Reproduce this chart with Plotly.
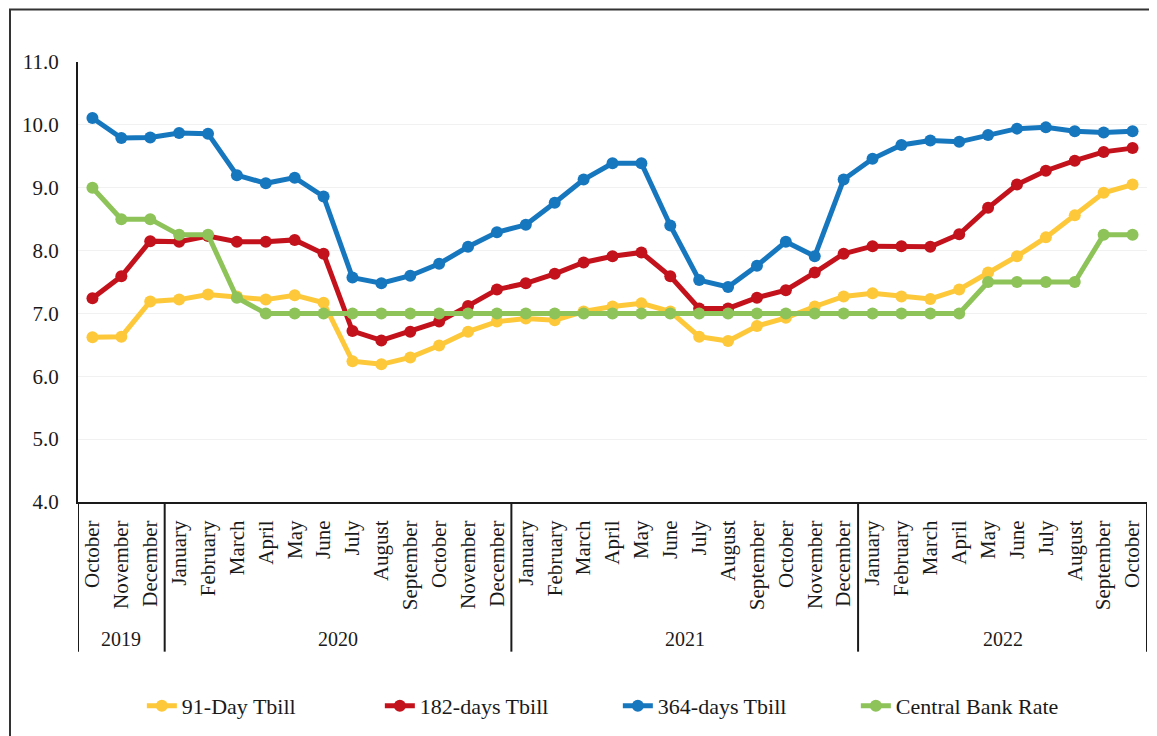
import plotly.graph_objects as go

months = ["October", "November", "December",
          "January", "February", "March", "April", "May", "June", "July", "August",
          "September", "October", "November", "December",
          "January", "February", "March", "April", "May", "June", "July", "August",
          "September", "October", "November", "December",
          "January", "February", "March", "April", "May", "June", "July", "August",
          "September", "October"]
year_labels = ["2019", "2020", "2021", "2022"]
year_counts = [3, 12, 12, 10]

tbill_91 = [6.62, 6.63, 7.19, 7.22, 7.30, 7.27, 7.22, 7.29, 7.17, 6.24, 6.19, 6.30,
            6.49, 6.71, 6.87, 6.92, 6.89, 7.03, 7.11, 7.16, 7.03, 6.63, 6.56, 6.80,
            6.93, 7.11, 7.27, 7.32, 7.27, 7.23, 7.38, 7.65, 7.91, 8.21, 8.56, 8.92, 9.05]
tbill_182 = [7.24, 7.59, 8.15, 8.14, 8.23, 8.14, 8.14, 8.17, 7.95, 6.72, 6.57, 6.71,
             6.87, 7.12, 7.38, 7.48, 7.63, 7.81, 7.91, 7.97, 7.59, 7.08, 7.08, 7.25,
             7.37, 7.65, 7.95, 8.07, 8.07, 8.06, 8.26, 8.68, 9.05, 9.27, 9.43, 9.57, 9.63]
tbill_364 = [10.11, 9.79, 9.80, 9.87, 9.86, 9.20, 9.07, 9.16, 8.86, 7.57, 7.48, 7.60,
             7.79, 8.06, 8.29, 8.41, 8.76, 9.13, 9.39, 9.39, 8.40, 7.53, 7.42, 7.76,
             8.14, 7.91, 9.13, 9.46, 9.68, 9.75, 9.73, 9.84, 9.94, 9.96, 9.90, 9.88, 9.90]
cbr = [9.0, 8.5, 8.5, 8.25, 8.25, 7.25, 7.0, 7.0, 7.0, 7.0, 7.0, 7.0,
       7.0, 7.0, 7.0, 7.0, 7.0, 7.0, 7.0, 7.0, 7.0, 7.0, 7.0, 7.0,
       7.0, 7.0, 7.0, 7.0, 7.0, 7.0, 7.0, 7.5, 7.5, 7.5, 7.5, 8.25, 8.25]

series = [
    ("91-Day Tbill", tbill_91, "#fdc83a"),
    ("182-days Tbill", tbill_182, "#c3121c"),
    ("364-days Tbill", tbill_364, "#1677bf"),
    ("Central Bank Rate", cbr, "#8dc358"),
]

FONT = "Liberation Serif"
INK = "#1a1a1a"
idx = list(range(len(months)))

# page has an 8px body margin, so the figure is sized/offset to compensate
W, H = 1149, 728
ML, MR, MT, MB = 70, 10, 54, 233
PH = H - MT - MB  # plot height in px


def py(y_px_fig):
    """convert a figure pixel y (from top) to paper coordinates"""
    return (H - MB - y_px_fig) / PH


fig = go.Figure()
for name, vals, col in series:
    fig.add_trace(go.Scatter(
        x=idx, y=vals, name=name, mode="lines+markers",
        line=dict(color=col, width=5),
        marker=dict(color=col, size=12),
    ))

fig.update_layout(
    width=W, height=H,
    margin=dict(l=ML, r=MR, t=MT, b=MB),
    paper_bgcolor="white", plot_bgcolor="white",
    font=dict(family=FONT, size=20, color=INK),
    showlegend=True,
    legend=dict(orientation="h", x=0.505, xanchor="center", y=py(698), yanchor="middle",
                font=dict(family=FONT, size=22, color=INK),
                entrywidth=193, traceorder="normal"),
    xaxis=dict(
        range=[-0.5, len(months) - 0.5], automargin=False,
        tickvals=idx, ticktext=months, tickangle=-90, ticks="",
        showline=True, linecolor=INK, linewidth=2, zeroline=False,
        showgrid=False, ticklabelstandoff=8,
        tickfont=dict(family=FONT, size=21, color=INK),
    ),
    yaxis=dict(
        range=[4, 11], tickvals=[4, 5, 6, 7, 8, 9, 10, 11], tickformat=".1f",
        showline=True, linecolor=INK, linewidth=2, automargin=False,
        showgrid=True, gridcolor="#f1f1f1", gridwidth=1,
        zeroline=False, ticks="", ticklabelstandoff=13,
        tickfont=dict(family=FONT, size=21, color=INK),
    ),
)

# year group dividers and labels below the month labels
Y_DIV_BOTTOM = py(645)
Y_YEAR = py(632)
start = 0
bounds = [-0.5]
for lab, n in zip(year_labels, year_counts):
    end = start + n
    bounds.append(end - 0.5)
    fig.add_annotation(xref="x", yref="paper", x=(start + end - 1) / 2, y=Y_YEAR,
                       text=lab, showarrow=False, xanchor="center", yanchor="middle",
                       font=dict(family=FONT, size=20, color=INK))
    start = end
for b in bounds:
    fig.add_shape(type="line", xref="x", yref="paper", x0=b, x1=b, y0=0, y1=Y_DIV_BOTTOM,
                  line=dict(color=INK, width=2))

# outer frame of the figure panel
fig.add_shape(type="rect", xref="paper", yref="paper",
              x0=(2 - ML) / (W - ML - MR), x1=1.03, y0=py(H + 20), y1=py(1.5),
              line=dict(color="#333333", width=2), fillcolor="rgba(0,0,0,0)", layer="below")

fig.write_html("out.html")
